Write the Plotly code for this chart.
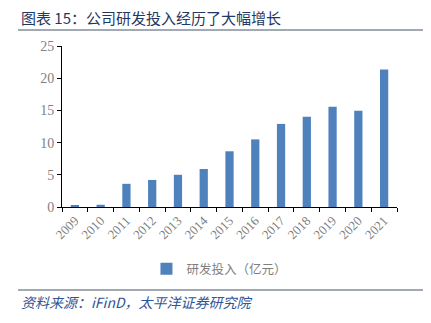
import plotly.graph_objects as go

years = ["2009", "2010", "2011", "2012", "2013", "2014", "2015", "2016", "2017", "2018", "2019", "2020", "2021"]
rd_spend = [0.25, 0.35, 3.6, 4.2, 5.0, 5.9, 8.65, 10.5, 12.9, 14.0, 15.55, 14.95, 21.35]
series_name = "研发投入（亿元）"
title_text = "图表 15：公司研发投入经历了大幅增长"
source_text = "资料来源：iFinD，太平洋证券研究院"

W, H = 431, 323
L, R, T, B = 62, 34, 46, 116
pw, ph = W - L - R, H - T - B

def px(x):
    return (x - L) / pw

def py(y):
    return (H - B - y) / ph

fig = go.Figure()
fig.add_trace(go.Bar(
    x=years, y=rd_spend, name=series_name,
    marker=dict(color="#4F81BD", line=dict(width=0)),
    showlegend=True,
))

serif = "Liberation Serif, Times New Roman, serif"
cjk = "Noto Sans CJK SC"

fig.update_layout(
    width=W, height=H,
    margin=dict(l=L, r=R, t=T, b=B),
    paper_bgcolor="white", plot_bgcolor="white",
    bargap=0.68,
    xaxis=dict(
        type="category", showline=True, linecolor="black", linewidth=1,
        ticks="outside", tickson="boundaries", ticklen=4, tickcolor="black",
        tickangle=-45, tickfont=dict(family=serif, size=13, color="#7F7F7F"),
        showgrid=False,
    ),
    yaxis=dict(
        range=[0, 25], dtick=5, showline=True, linecolor="black", linewidth=1,
        ticks="outside", ticklen=4, tickcolor="black",
        tickfont=dict(family=serif, size=14, color="#7F7F7F"),
        showgrid=False, zeroline=False,
    ),
    legend=dict(
        orientation="h", x=0.47, xanchor="center", y=py(269), yanchor="middle",
        font=dict(family=cjk, size=12.5, color="#7F7F7F"),
        itemwidth=30,
    ),
    annotations=[
        dict(text=title_text, xref="paper", yref="paper", x=px(19), y=py(17),
             xanchor="left", yanchor="middle", showarrow=False,
             font=dict(family=cjk, size=15, color="#1F3864")),
        dict(text="<i>" + source_text + "</i>", xref="paper", yref="paper", x=px(19), y=py(302),
             xanchor="left", yanchor="middle", showarrow=False,
             font=dict(family=cjk, size=14, color="#2F5597")),
    ],
    shapes=[
        dict(type="line", xref="paper", yref="paper", x0=px(18), x1=px(423), y0=py(30), y1=py(30),
             line=dict(color="#44546A", width=1)),
        dict(type="line", xref="paper", yref="paper", x0=px(18), x1=px(423), y0=py(290), y1=py(290),
             line=dict(color="#44546A", width=1)),
    ],
)

fig.write_html("out.html")
